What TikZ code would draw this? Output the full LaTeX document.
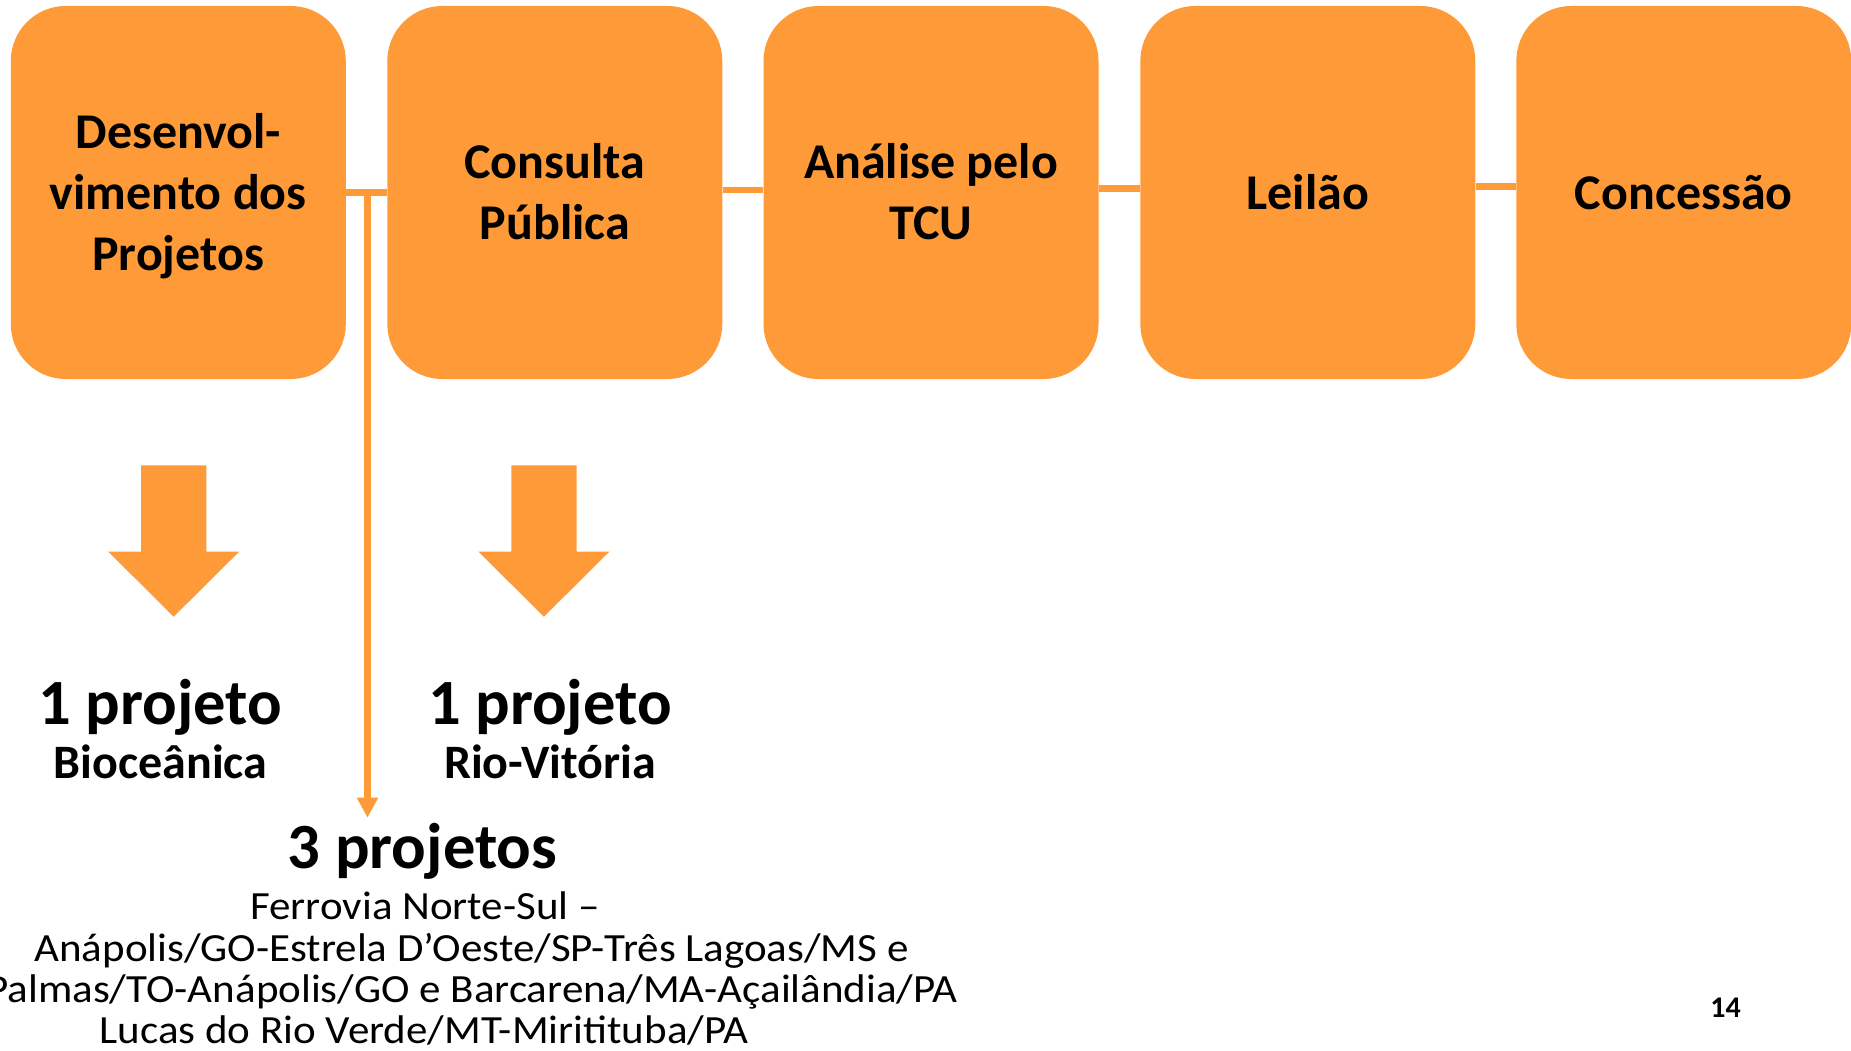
\documentclass[tikz,border=0pt]{standalone}
\usepackage{fontspec}
\setmainfont{Carlito}
\newfontfamily\listfont[FakeStretch=1.075]{Carlito}
\usetikzlibrary{arrows.meta}
\definecolor{orng}{RGB}{254,154,56}
\newcommand{\stagetext}[1]{\raisebox{0pt}[\dimexpr\height+9.4pt\relax]{\begin{tabular}{@{}c@{}}#1\end{tabular}}}
\tikzset{
  x=1pt, y=-1pt,
  stage/.style={fill=orng, rounded corners=55pt, minimum width=335pt, minimum height=373pt,
    inner sep=0pt, font=\fontsize{50}{61}\selectfont\bfseries},
  conn/.style={draw=orng, line width=6.5pt},
  thinarrow/.style={draw=orng, line width=6.2pt, -{Triangle[width=20pt,length=20pt]}},
  blockarrow/.style={fill=orng},
  bigtxt/.style={anchor=base, inner sep=0pt, font=\fontsize{64.5}{70}\selectfont\bfseries},
  subtxt/.style={anchor=base, inner sep=0pt, font=\fontsize{48}{55}\selectfont\bfseries},
  listtxt/.style={anchor=base, inner sep=0pt, font=\fontsize{40}{42}\listfont},
  pagetxt/.style={anchor=base, inner sep=0pt, font=\fontsize{30}{36}\selectfont\bfseries}
}
\begin{document}
\begin{tikzpicture}
\useasboundingbox[fill=white] (0,0) rectangle (1851,1051);
\node[stage] (b1) at (178.3,192.5) {\stagetext{Desenvol-\\vimento dos\\Projetos}};
\node[stage] (b2) at (554.8,192.5) {\stagetext{Consulta\\Pública}};
\node[stage] (b3) at (931,192.5) {\stagetext{Análise pelo\\TCU}};
\node[stage] (b4) at (1307.8,192.5) {\stagetext{Leilão}};
\node[stage] (b5) at (1683.8,192.5) {\stagetext{Concessão}};
\draw[conn] (b1.east) -- (b2.west);
\draw[conn] ([yshift=2.5pt]b2.east) -- ([yshift=2.5pt]b3.west);
\draw[conn] ([yshift=4.2pt]b3.east) -- ([yshift=4.2pt]b4.west);
\draw[conn] ([yshift=6.2pt]b4.east) -- ([yshift=6.2pt]b5.west);
\coordinate (j) at (367.5,192.5);
\coordinate (t) at (367.5,817.7);
\draw[thinarrow] (j) -- (t);
\foreach \cx in {173.7,543.9}{
  \fill[blockarrow] (\cx-32.6,465.3) -- (\cx+32.6,465.3) -- (\cx+32.6,551.7) -- (\cx+65.4,551.7)
    -- (\cx,616.7) -- (\cx-65.4,551.7) -- (\cx-32.6,551.7) -- cycle;
}
\node[bigtxt] (p1) at (160.5,724) {1 projeto};
\node[subtxt] (s1) at (160.5,778) {Bioceânica};
\node[bigtxt] (p2) at (550,724) {1 projeto};
\node[subtxt] (s2) at (550,778) {Rio-Vitória};
\node[bigtxt] (p3) at (422.6,868) {3 projetos};
\node[listtxt] (l1) at (425,919) {Ferrovia Norte-Sul –};
\node[listtxt] (l2) at (471.5,961) {Anápolis/GO-Estrela D’Oeste/SP-Três Lagoas/MS e};
\node[listtxt] (l3) at (472,1002.7) {Palmas/TO-Anápolis/GO e Barcarena/MA-Açailândia/PA};
\node[listtxt] (l4) at (424,1043.3) {Lucas do Rio Verde/MT-Miritituba/PA};
\node[pagetxt] (pg) at (1725.5,1017.3) {14};
\end{tikzpicture}
\end{document}
